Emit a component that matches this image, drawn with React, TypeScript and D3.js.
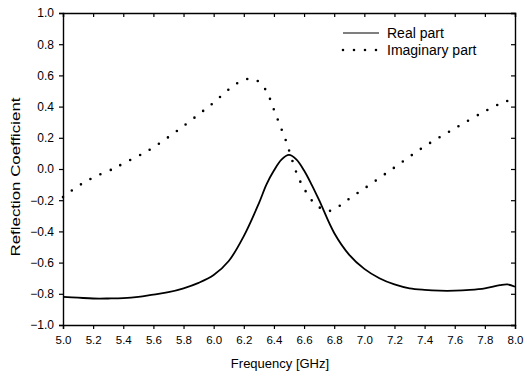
import React, { useEffect, useRef } from 'react';
import * as d3 from 'd3';

// frequency (GHz) / value pairs
const realFreq = [5.0, 5.1, 5.2, 5.3, 5.4, 5.5, 5.6, 5.7, 5.8, 5.9, 6.0, 6.1, 6.2, 6.3, 6.35, 6.4, 6.45, 6.5, 6.55, 6.6, 6.65, 6.7, 6.8, 6.9, 7.0, 7.1, 7.2, 7.3, 7.4, 7.5, 7.6, 7.7, 7.8, 7.9, 7.95, 8.0];
const realVals = [-0.82, -0.825, -0.83, -0.83, -0.828, -0.82, -0.805, -0.79, -0.765, -0.73, -0.68, -0.59, -0.43, -0.22, -0.1, -0.01, 0.06, 0.09, 0.06, -0.01, -0.1, -0.2, -0.41, -0.55, -0.64, -0.7, -0.74, -0.765, -0.775, -0.78, -0.78, -0.775, -0.765, -0.745, -0.74, -0.755];

const imagFreq = [5.0, 5.1, 5.2, 5.33, 5.4, 5.56, 5.7, 5.8, 5.92, 6.0, 6.1, 6.2, 6.27, 6.32, 6.36, 6.4, 6.44, 6.48, 6.52, 6.56, 6.6, 6.65, 6.7, 6.76, 6.83, 6.9, 7.0, 7.2, 7.4, 7.6, 7.8, 7.93, 8.0];
const imagVals = [-0.18, -0.11, -0.055, 0.0, 0.035, 0.115, 0.205, 0.275, 0.365, 0.425, 0.51, 0.572, 0.575, 0.54, 0.48, 0.38, 0.28, 0.18, 0.06, -0.05, -0.125, -0.2, -0.245, -0.27, -0.24, -0.19, -0.125, 0.01, 0.145, 0.26, 0.37, 0.43, 0.45];

const xTicks = [5.0, 5.2, 5.4, 5.6, 5.8, 6.0, 6.2, 6.4, 6.6, 6.8, 7.0, 7.2, 7.4, 7.6, 7.8, 8.0];
const yTicks = [-1.0, -0.8, -0.6, -0.4, -0.2, 0.0, 0.2, 0.4, 0.6, 0.8, 1.0];

const seriesNames = ['Real part', 'Imaginary part'];

const W = 527;
const H = 377;
const margin = { left: 63, top: 13, right: 12, bottom: 52 };

const App = () => {
  const svgRef = useRef<SVGSVGElement>(null);

  useEffect(() => {
    const svg = d3.select(svgRef.current).attr('width', W).attr('height', H);
    svg.selectAll('*').remove();

    const x = d3.scaleLinear().domain([5, 8]).range([margin.left, W - margin.right]);
    const y = d3.scaleLinear().domain([-1, 1]).range([H - margin.bottom, margin.top]);
    const font = 'Liberation Sans, Arial, sans-serif';

    // axes: outward ticks on left/bottom, inward on top/right
    const bottom = svg.append('g')
      .attr('transform', `translate(0,${y(-1)})`)
      .call(d3.axisBottom(x).tickValues(xTicks).tickSize(4).tickPadding(7).tickFormat(d3.format('.1f')));
    const left = svg.append('g')
      .attr('transform', `translate(${x(5)},0)`)
      .call(d3.axisLeft(y).tickValues(yTicks).tickSize(4).tickPadding(5).tickFormat(d3.format('.1f')));
    const top = svg.append('g')
      .attr('transform', `translate(0,${y(1)})`)
      .call(d3.axisTop(x).tickValues(xTicks).tickSize(-4).tickFormat(() => ''));
    const right = svg.append('g')
      .attr('transform', `translate(${x(8)},0)`)
      .call(d3.axisRight(y).tickValues(yTicks).tickSize(-4).tickFormat(() => ''));

    [bottom, left, top, right].forEach(g => {
      g.select('.domain').attr('stroke', '#000').attr('stroke-width', 1.4);
      g.selectAll('.tick line').attr('stroke', '#000').attr('stroke-width', 1.2);
      g.selectAll('text').attr('font-family', font).attr('fill', '#000');
    });
    bottom.selectAll('text').attr('font-size', 11.5);
    left.selectAll('text').attr('font-size', 12);

    const line = d3.line<[number, number]>()
      .x(d => x(d[0]))
      .y(d => y(d[1]))
      .curve(d3.curveCatmullRom.alpha(0.5));

    const realData = realFreq.map((f, i) => [f, realVals[i]] as [number, number]);
    const imagData = imagFreq.map((f, i) => [f, imagVals[i]] as [number, number]);

    svg.append('path')
      .datum(realData)
      .attr('d', line)
      .attr('fill', 'none')
      .attr('stroke', '#000')
      .attr('stroke-width', 1.8);

    svg.append('path')
      .datum(imagData)
      .attr('d', line)
      .attr('fill', 'none')
      .attr('stroke', '#000')
      .attr('stroke-width', 2.6)
      .attr('stroke-linecap', 'round')
      .attr('stroke-dasharray', '0 11');

    // legend
    const legend = svg.append('g');
    seriesNames.forEach((name, i) => {
      const ly = 33 + i * 17;
      legend.append('line')
        .attr('x1', 343).attr('x2', 379).attr('y1', ly).attr('y2', ly)
        .attr('stroke', '#000')
        .attr('stroke-width', i === 0 ? 1.2 : 2.6)
        .attr('stroke-linecap', i === 0 ? 'butt' : 'round')
        .attr('stroke-dasharray', i === 0 ? null : '0 11');
      legend.append('text')
        .attr('x', 387).attr('y', ly + 5)
        .attr('font-family', font).attr('font-size', 14)
        .text(name);
    });

    // axis titles
    svg.append('text')
      .attr('x', (x(5) + x(8)) / 2 - 9).attr('y', 368)
      .attr('text-anchor', 'middle')
      .attr('font-family', font).attr('font-size', 13)
      .text('Frequency [GHz]');
    svg.append('text')
      .attr('transform', `translate(20,${y(0) + 8}) rotate(-90) scale(1.35,1)`)
      .attr('text-anchor', 'middle')
      .attr('font-family', font).attr('font-size', 12.5)
      .text('Reflection Coefficient');
  }, []);

  return (
    <div style={{ position: 'absolute', left: 0, top: 0 }}>
      <svg ref={svgRef}></svg>
    </div>
  );
};

export default App;
